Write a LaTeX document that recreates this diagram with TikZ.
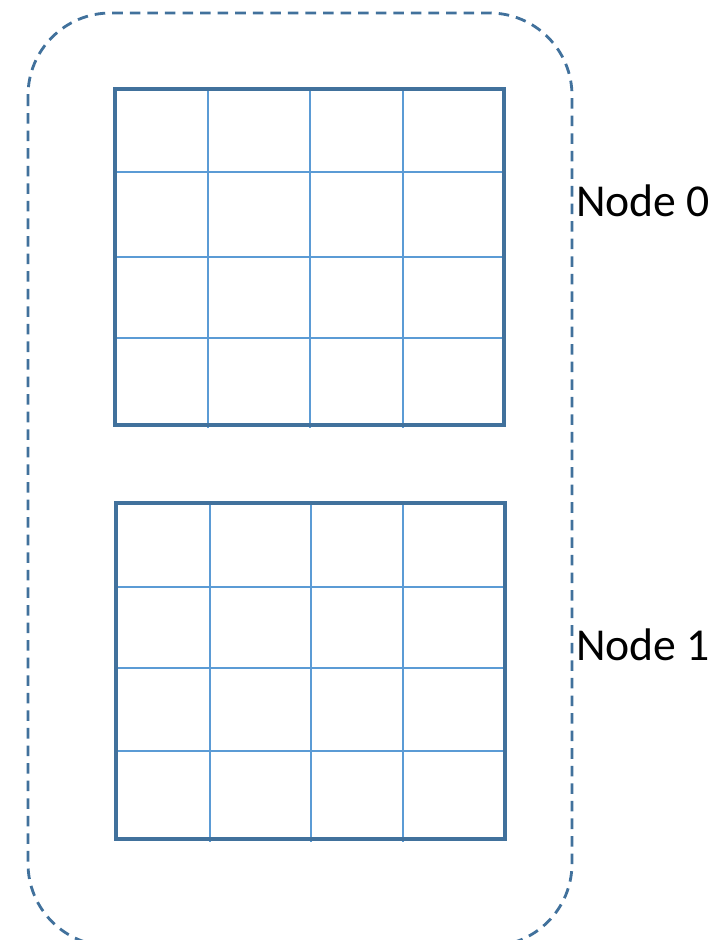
\documentclass[tikz,border=0pt]{standalone}
\usepackage{fontspec}
\setmainfont{Carlito}
\usetikzlibrary{positioning}
\definecolor{frameblue}{RGB}{65,113,156}
\definecolor{cellblue}{RGB}{91,155,213}
\tikzset{
	cluster/.style={frameblue, line width=1.6pt, dash pattern=on 6pt off 4pt, rounded corners=1.65cm},
	gridbox/.style={rectangle, draw=frameblue, line width=1.9pt, minimum width=7.78cm, minimum height=6.72cm, inner sep=0pt},
	cellline/.style={cellblue, line width=.6pt},
	nodelabel/.style={font=\fontsize{26}{31}\selectfont, text=black, inner sep=0pt}
}

\begin{document}
\begin{tikzpicture}[x=0.02cm, y=-0.02cm]
\useasboundingbox (0,0) rectangle (713,940);
\draw [cluster] (28,13) rectangle (572,946);
% node 0
\foreach \x in {208,310,403}
  \draw [cellline] (\x,91) -- (\x,428);
\foreach \y in {172,257,338}
  \draw [cellline] (117,\y) -- (502,\y);
\node [gridbox] (grid0) at (309.5,257) {};
% node 1
\foreach \x in {210,311,403}
  \draw [cellline] (\x,505) -- (\x,842);
\foreach \y in {587,668,751}
  \draw [cellline] (118,\y) -- (503,\y);
\node [gridbox] (grid1) at (310.5,671) {};

\node [nodelabel, anchor=west] (label0) at (576,201) {Node 0};
\node [nodelabel, anchor=west] (label1) at (576,645) {Node 1};
\end{tikzpicture}
\end{document}
